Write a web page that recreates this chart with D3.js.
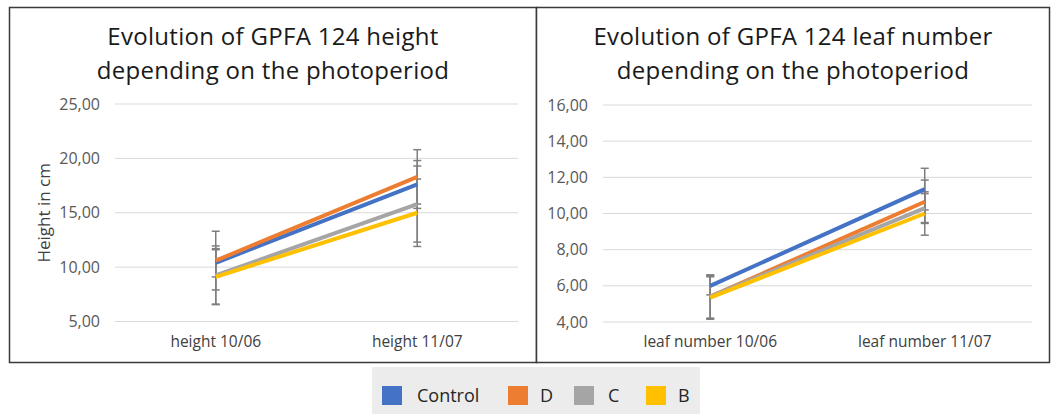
<!DOCTYPE html>
<html>
<head>
<meta charset="utf-8">
<script src="https://cdn.jsdelivr.net/npm/d3@7"></script>
<style>
  body { margin: 0; background: #fff; }
  text { font-family: "Open Sans", "Noto Sans", sans-serif; }
</style>
</head>
<body>
<div id="chart"></div>
<script>
// categories and series
const heightCategories = ["height 10/06", "height 11/07"];
const leafCategories = ["leaf number 10/06", "leaf number 11/07"];
const seriesNames = ["Control", "D", "C", "B"];
const seriesColors = ["#4472C4", "#ED7D31", "#A5A5A5", "#FFC000"];

// height values (cm) and error bars
const heightControl = [10.4, 17.6];
const heightD = [10.6, 18.3];
const heightC = [9.25, 15.8];
const heightB = [9.1, 15.0];
const heightErrControl = [1.3, 2.2];
const heightErrD = [2.7, 2.5];
const heightErrC = [2.7, 3.5];
const heightErrB = [2.5, 3.1];

// leaf number values and error bars
const leafControl = [6.0, 11.35];
const leafD = [5.4, 10.65];
const leafC = [5.4, 10.3];
const leafB = [5.35, 10.0];
const leafErrControl = [0.5, 1.15];
const leafErrD = [1.2, 1.2];
const leafErrC = [1.2, 0.8];
const leafErrB = [1.2, 1.2];

// tick labels
const heightTicks = [5, 10, 15, 20, 25];
const leafTicks = [4, 6, 8, 10, 12, 14, 16];

const fmt = v => d3.format(".2f")(v).replace(".", ",");

const svg = d3.select("#chart").append("svg")
    .attr("width", 1052)
    .attr("height", 414);

function drawPanel(opts) {
    const g = svg.append("g");

    // frame
    g.append("rect")
        .attr("x", opts.frame[0]).attr("y", opts.frame[1])
        .attr("width", opts.frame[2]).attr("height", opts.frame[3])
        .attr("fill", "#fff")
        .attr("stroke", "#3a3a3a")
        .attr("stroke-width", 1.5);

    // title, two lines
    const cx = opts.frame[0] + opts.frame[2] / 2;
    opts.title.forEach((line, i) => {
        g.append("text")
            .attr("x", cx)
            .attr("y", 45 + i * 34)
            .attr("text-anchor", "middle")
            .attr("fill", "#1a1a1a")
            .style("font-size", "24px")
            .style("letter-spacing", "0.3px")
            .text(line);
    });

    const x = d3.scaleBand().domain(opts.categories).range(opts.xRange);
    const y = d3.scaleLinear().domain(opts.yDomain).range(opts.yRange);

    // gridlines + tick labels
    g.selectAll(".grid")
        .data(opts.ticks)
        .enter().append("line")
        .attr("x1", opts.xRange[0]).attr("x2", opts.xRange[1])
        .attr("y1", d => y(d)).attr("y2", d => y(d))
        .attr("stroke", "#d9d9d9")
        .attr("stroke-width", 1);

    g.selectAll(".tick-label")
        .data(opts.ticks)
        .enter().append("text")
        .attr("x", opts.xRange[0] - 15)
        .attr("y", d => y(d) + 5.5)
        .attr("text-anchor", "end")
        .attr("fill", "#595959")
        .style("font-size", "16px")
        .text(d => fmt(d));

    // category labels
    g.selectAll(".cat-label")
        .data(opts.categories)
        .enter().append("text")
        .attr("x", d => x(d) + x.bandwidth() / 2)
        .attr("y", 347)
        .attr("text-anchor", "middle")
        .attr("fill", "#404040")
        .style("font-size", "15.5px")
        .text(d => d);

    if (opts.yTitle) {
        g.append("text")
            .attr("transform", `translate(50,${(opts.yRange[0] + opts.yRange[1]) / 2}) rotate(-90)`)
            .attr("text-anchor", "middle")
            .attr("fill", "#404040")
            .style("font-size", "17px")
            .text(opts.yTitle);
    }

    const cxOf = c => x(c) + x.bandwidth() / 2;

    // error bars
    opts.series.forEach(s => {
        s.values.forEach((v, i) => {
            const px = cxOf(opts.categories[i]);
            const top = y(v + s.err[i]), bot = y(v - s.err[i]);
            g.append("line")
                .attr("x1", px).attr("x2", px)
                .attr("y1", top).attr("y2", bot)
                .attr("stroke", "#7f7f7f").attr("stroke-width", 1.5);
            [top, bot].forEach(cy => {
                g.append("line")
                    .attr("x1", px - 4).attr("x2", px + 4)
                    .attr("y1", cy).attr("y2", cy)
                    .attr("stroke", "#7f7f7f").attr("stroke-width", 1.5);
            });
        });
    });

    // series lines
    const line = d3.line()
        .x((d, i) => cxOf(opts.categories[i]))
        .y(d => y(d));
    opts.series.forEach(s => {
        g.append("path")
            .attr("d", line(s.values))
            .attr("fill", "none")
            .attr("stroke", s.color)
            .attr("stroke-width", 4);
    });
}

drawPanel({
    frame: [9.5, 7.5, 527, 355],
    title: ["Evolution of GPFA 124 height", "depending on the photoperiod"],
    categories: heightCategories,
    xRange: [115, 518],
    yDomain: [5, 25],
    yRange: [321.5, 104],
    ticks: heightTicks,
    yTitle: "Height in cm",
    series: [
        { values: heightControl, err: heightErrControl, color: seriesColors[0] },
        { values: heightD, err: heightErrD, color: seriesColors[1] },
        { values: heightC, err: heightErrC, color: seriesColors[2] },
        { values: heightB, err: heightErrB, color: seriesColors[3] }
    ]
});

drawPanel({
    frame: [536.5, 7.5, 513, 355],
    title: ["Evolution of GPFA 124 leaf number", "depending on the photoperiod"],
    categories: leafCategories,
    xRange: [603, 1032],
    yDomain: [4, 16],
    yRange: [322, 105],
    ticks: leafTicks,
    series: [
        { values: leafControl, err: leafErrControl, color: seriesColors[0] },
        { values: leafD, err: leafErrD, color: seriesColors[1] },
        { values: leafC, err: leafErrC, color: seriesColors[2] },
        { values: leafB, err: leafErrB, color: seriesColors[3] }
    ]
});

// legend
const legend = svg.append("g");
legend.append("rect")
    .attr("x", 372).attr("y", 367)
    .attr("width", 328).attr("height", 47)
    .attr("fill", "#ececec");

const legendX = [382, 508, 574, 646];
const legendTextX = [417, 540, 608, 678];
seriesNames.forEach((name, i) => {
    legend.append("rect")
        .attr("x", legendX[i]).attr("y", 386)
        .attr("width", 20).attr("height", 19)
        .attr("fill", seriesColors[i]);
    legend.append("text")
        .attr("x", legendTextX[i]).attr("y", 402)
        .attr("fill", "#262626")
        .style("font-size", "18px")
        .text(name);
});
</script>
</body>
</html>
